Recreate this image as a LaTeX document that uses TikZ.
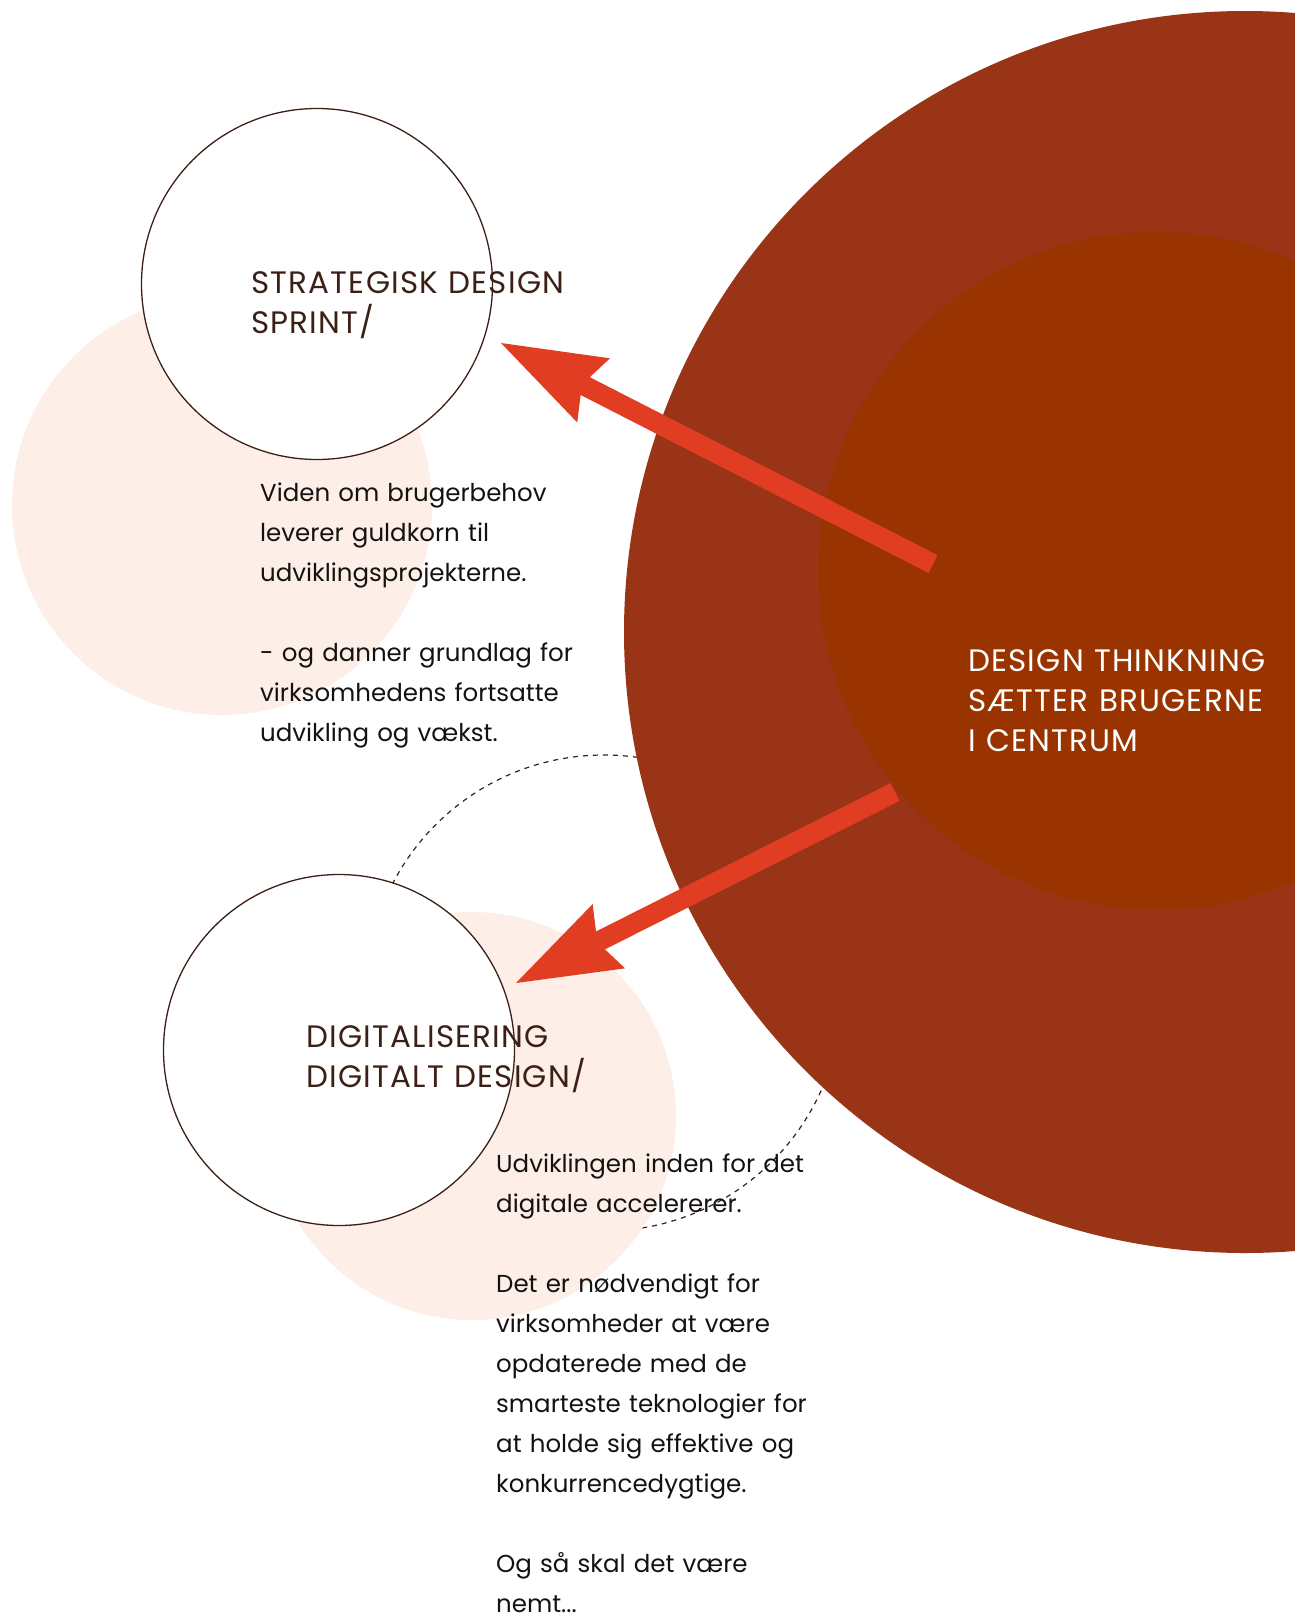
\documentclass[tikz,border=0pt]{standalone}
\usepackage{fontspec}
\setmainfont{Poppins}
\usetikzlibrary{arrows.meta}

\definecolor{rust}{HTML}{993416}
\definecolor{rustcore}{HTML}{993300}
\definecolor{signal}{HTML}{E13D23}
\definecolor{blush}{HTML}{FDEEE8}
\definecolor{ink}{HTML}{3C2016}
\definecolor{body}{HTML}{141210}

\tikzset{>={Stealth[length=104pt,width=72pt,inset=13pt,line width=0pt]}}

\begin{document}
\begin{tikzpicture}[x=1pt,y=-1pt,
    ring/.style={circle,draw=ink,line width=1.3pt,fill=white,minimum size=351pt,inner sep=0pt},
    halo/.style={circle,fill=blush,inner sep=0pt},
    head/.style={anchor=base west,inner sep=0pt,text width=460pt,align=left,
      font=\fontsize{31}{40}\selectfont\addfontfeatures{LetterSpace=4}},
    copy/.style={anchor=base west,inner sep=0pt,text width=380pt,align=left,
      text=body,font=\fontsize{24.5}{40}\selectfont},
    bigarrow/.style={->,draw=signal,line width=20pt}]

  \useasboundingbox (0,0) rectangle (1295,1617);
  \clip (0,0) rectangle (1295,1617);

  % dashed orbit behind everything
  \node[circle,draw=ink,dashed,line width=1.2pt,dash pattern=on 5pt off 5pt,
    minimum size=476pt,inner sep=0pt] (orbit) at (604,993) {};

  % pale halos
  \node[halo,minimum size=420pt] (haloA) at (222,505) {};
  \node[halo,minimum size=408pt] (haloB) at (472,1116) {};

  % outlined circles
  \node[ring] (sprint) at (317,284) {};
  \node[ring] (digital) at (339,1050) {};

  % design thinking
  \node[circle,fill=rust,minimum size=1242pt,inner sep=0pt] (outer) at (1245,632) {};
  \node[circle,fill=rustcore,minimum size=678pt,inner sep=0pt] (core) at (1157,571) {};

  % arrows out of the core
  \coordinate (tailA) at (933,564);
  \coordinate (tipA) at (501,343);
  \coordinate (tailB) at (895,792);
  \coordinate (tipB) at (516,983);
  \draw[bigarrow] (tailA) -- (tipA);
  \draw[bigarrow] (tailB) -- (tipB);

  % texts
  \node[head,text=ink] (sprinttxt) at (251,293) {STRATEGISK DESIGN\\SPRINT/};
  \node[head,text=ink] (digitaltxt) at (306,1047) {DIGITALISERING\\DIGITALT DESIGN/};
  \node[head,text=white] (coretxt) at (968,671) {DESIGN THINKNING\\SÆTTER BRUGERNE\\I CENTRUM};

  \node[copy] (sprintcopy) at (260,501) {Viden om brugerbehov\\leverer guldkorn til\\udviklingsprojekterne.\\[40pt]
    - og danner grundlag for\\virksomhedens fortsatte\\udvikling og vækst.};
  \node[copy] (digitalcopy) at (496,1172) {Udviklingen inden for det\\digitale accelererer.\\[40pt]
    Det er nødvendigt for\\virksomheder at være\\opdaterede med de\\smarteste teknologier for\\at holde sig effektive og\\konkurrencedygtige.\\[40pt]
    Og så skal det være\\nemt...};

\end{tikzpicture}
\end{document}
